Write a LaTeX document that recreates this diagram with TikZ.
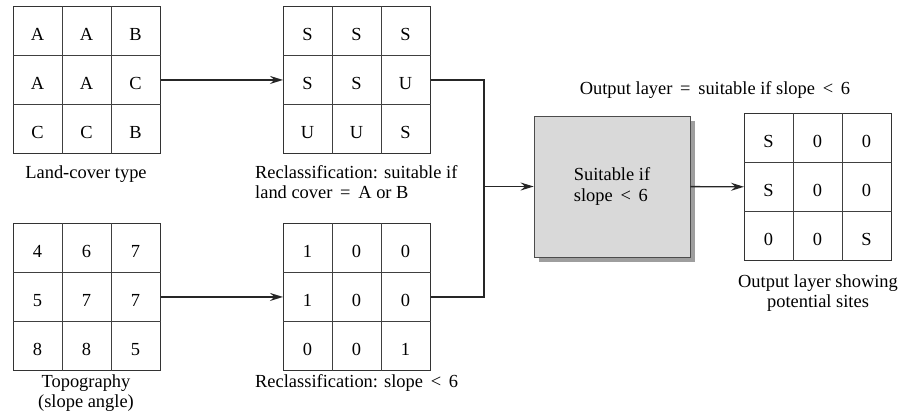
\documentclass[tikz,border=0pt]{standalone}
\usepackage{fontspec}
\setmainfont{Liberation Serif}
\usetikzlibrary{arrows.meta,calc,shadows}

% relation sign with the wide spacing used in the captions
\newcommand\relsym[1]{\hspace{0.42em}#1\hspace{0.42em}}

% a 3x3 raster layer: name, top-left corner, nine cell values (row by row)
\newcommand\rastergrid[3]{%
  \node[gridbox, anchor=north west] (#1) at (#2) {};
  \foreach \k in {49,98}{
    \draw[gridline] ($(#1.north west)+(\k,0)$) -- ($(#1.south west)+(\k,0)$);
    \draw[gridline] ($(#1.north west)+(0,\k)$) -- ($(#1.north east)+(0,\k)$);
  }
  \foreach \v [count=\i from 0] in {#3}{
    \pgfmathtruncatemacro\cc{mod(\i,3)}
    \pgfmathtruncatemacro\rr{div(\i,3)}
    \node[cellval] (#1-\i) at ($(#1.north west)+(\cc*49+24.5,\rr*49+34.5)$) {\v};
  }
}

\begin{document}
\begin{tikzpicture}[x=1bp,y=-1bp,
  font=\fontsize{18.5}{20.5}\selectfont,
  gridbox/.style={draw=black!80, line width=0.9bp, minimum width=147bp,
    minimum height=147bp, inner sep=0pt},
  gridline/.style={draw=black!75, line width=0.8bp},
  cellval/.style={anchor=base, inner sep=0pt},
  caption/.style={inner sep=0pt},
  link/.style={draw=black!85, line width=1.4bp},
  flow/.style={link, -{Stealth[length=13bp,width=8bp,inset=4.5bp]}},
  rulebox/.style={draw=black!70, line width=0.8bp, fill=black!15,
    minimum width=156bp, minimum height=141bp, align=left,
    drop shadow={shadow xshift=5bp, shadow yshift=-5bp, fill=black!38, opacity=1}}
]
\useasboundingbox[fill=white] (0,0) rectangle (903,418);

% input layers and their reclassifications
\rastergrid{lc}{13,6}{A,A,B,A,A,C,C,C,B}
\rastergrid{lcr}{283,6}{S,S,S,S,S,U,U,U,S}
\rastergrid{topo}{13,223}{4,6,7,5,7,7,8,8,5}
\rastergrid{slr}{283,223}{1,0,0,1,0,0,0,0,1}

% combining rule and output layer
\node[rulebox] (rule) at (612,186.5) {Suitable if\\slope\relsym{<}6};
\rastergrid{out}{744,113}{S,0,0,S,0,0,0,0,S}

% captions (a two-line node sits on the baseline of its last line)
\node[caption, anchor=base] (lc-cap) at (86,178) {Land-cover type};
\node[caption, anchor=base west, align=left] (lcr-cap) at (255,198.5)
  {Reclassification: suitable if\\land cover\relsym{=}A or B};
\node[caption, anchor=base, align=center] (topo-cap) at (86,407.5)
  {Topography\\(slope angle)};
\node[caption, anchor=base west] (slr-cap) at (255,387)
  {Reclassification: slope\relsym{<}6};
\node[caption, anchor=base] (out-title) at (715,94)
  {Output layer\relsym{=}suitable if slope\relsym{<}6};
\node[caption, anchor=base, align=center] (out-cap) at (818,307.5)
  {Output layer showing\\potential sites};

% connectors
\draw[flow] (lc) -- (lcr);
\draw[flow] (topo) -- (slr);
\coordinate (bus) at (484,186.5);
\draw[link] (lcr.east) -| (bus) |- (slr.east);
\draw[flow] (bus) -- (rule.west);
\draw[flow] (rule) -- (out);
\end{tikzpicture}
\end{document}
